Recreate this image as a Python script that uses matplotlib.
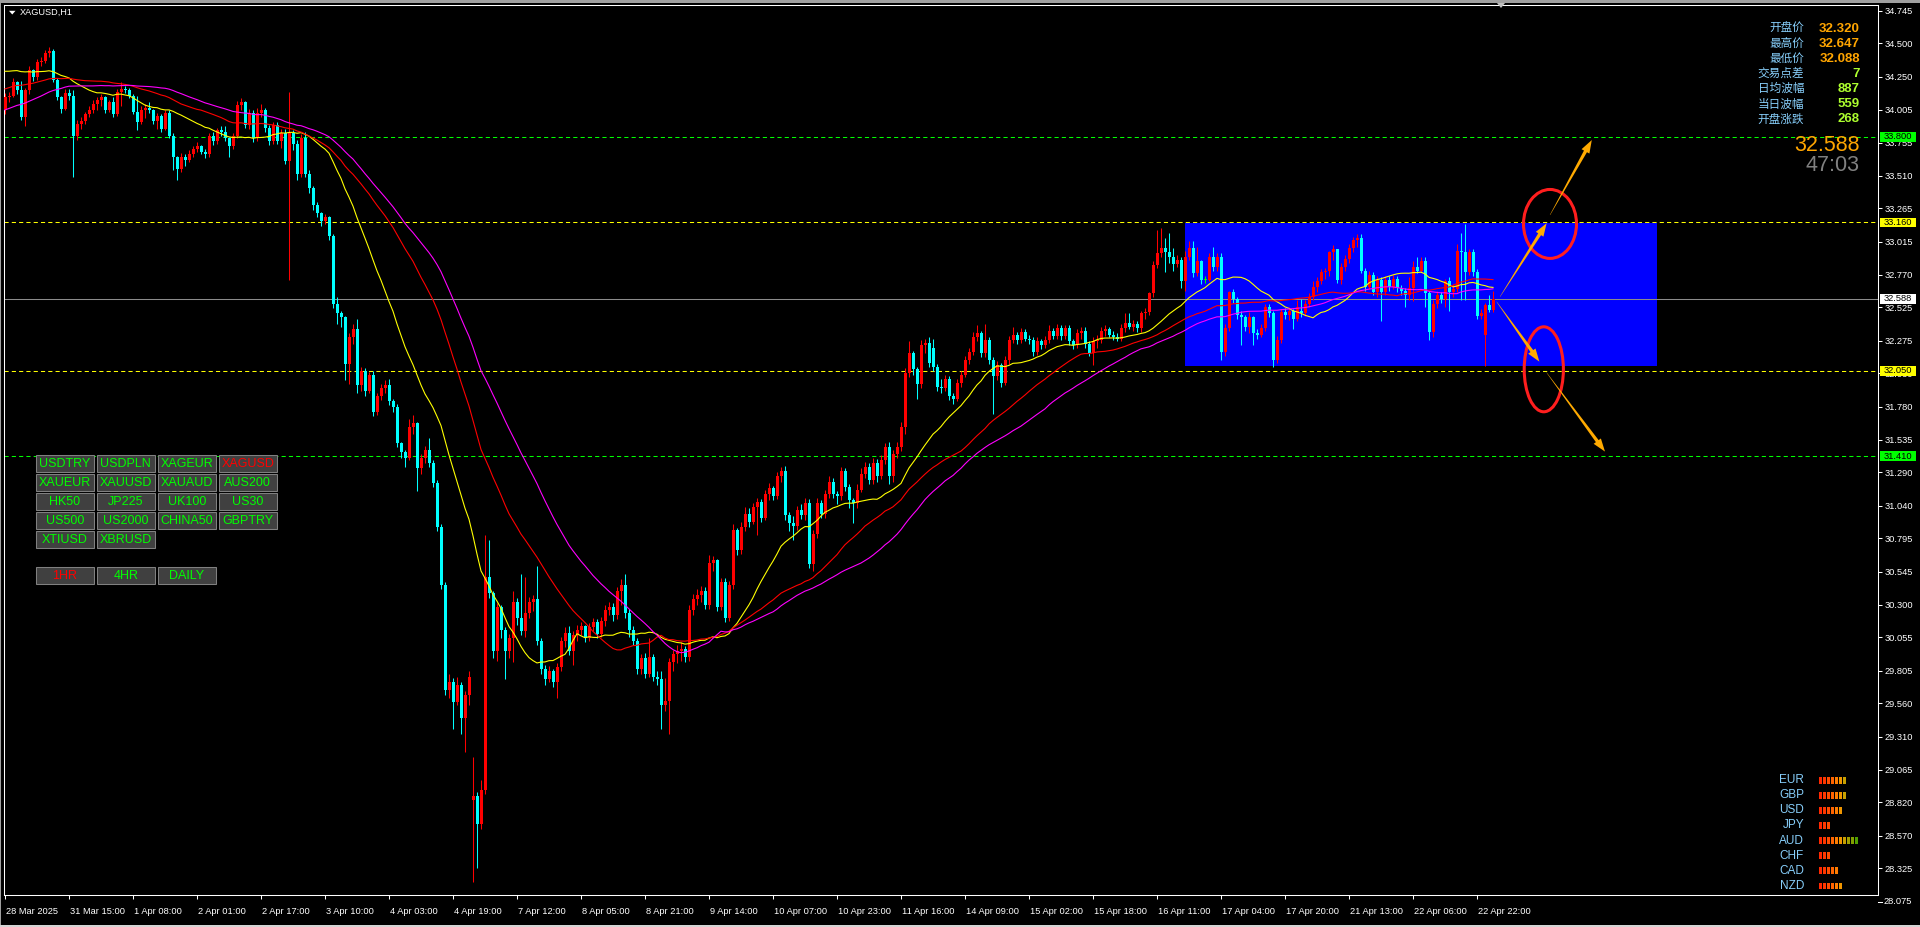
import numpy as np
import pandas as pd
import matplotlib
matplotlib.use("Agg")
import matplotlib.pyplot as plt
from matplotlib.patches import Rectangle, Ellipse, Polygon

W, H = 1920, 927
plt.rcParams["font.family"] = ["Liberation Sans", "DejaVu Sans"]
CJK = ["Noto Sans CJK SC", "DejaVu Sans"]

symbol_title = "XAGUSD,H1"

# ---------------- hourly candles (XAGUSD H1) ----------------
first_open = 34.00
# bars that open away from the previous close (session / weekend gaps)
session_opens = {117: 28.84, 232: 32.22, 324: 32.50, 370: 32.32}

closes = [
    34.10, 34.11, 34.21, 34.15, 33.95, 34.15, 34.30, 34.25, 34.36, 34.37,
    34.43, 34.44, 34.23, 34.10, 34.01, 34.13, 34.11, 33.81, 33.90, 33.92,
    33.97, 34.00, 34.05, 34.08, 34.10, 34.00, 34.06, 33.97, 34.14, 34.16,
    34.15, 34.11, 33.99, 33.91, 34.00, 34.02, 34.00, 33.92, 33.96, 33.86,
    33.98, 33.81, 33.65, 33.56, 33.65, 33.63, 33.67, 33.71, 33.73, 33.69,
    33.67, 33.81, 33.77, 33.85, 33.84, 33.79, 33.73, 33.81, 34.04, 34.06,
    33.89, 33.98, 33.79, 33.98, 34.00, 33.87, 33.77, 33.89, 33.77, 33.83,
    33.62, 33.83, 33.75, 33.52, 33.79, 33.52, 33.42, 33.29, 33.23, 33.17,
    33.20, 33.06, 32.55, 32.48, 32.45, 32.10, 32.30, 32.36, 31.94, 32.05,
    31.90, 32.02, 31.74, 31.86, 31.92, 31.94, 31.82, 31.78, 31.51, 31.44,
    31.40, 31.63, 31.66, 31.32, 31.40, 31.46, 31.36, 31.21, 30.88, 30.45,
    29.66, 29.72, 29.57, 29.70, 29.45, 29.62, 29.76, 28.87, 28.66, 28.91,
    30.51, 30.39, 29.95, 30.28, 30.11, 29.95, 30.05, 30.32, 30.20, 30.10,
    30.24, 30.32, 30.34, 30.03, 29.82, 29.74, 29.80, 29.72, 29.83, 30.03,
    30.09, 29.95, 30.07, 30.11, 30.14, 30.05, 30.13, 30.17, 30.08, 30.18,
    30.26, 30.28, 30.22, 30.40, 30.45, 30.24, 30.11, 30.03, 29.82, 29.90,
    29.78, 29.91, 29.76, 29.74, 29.55, 29.58, 29.87, 29.93, 29.95, 29.97,
    29.91, 30.26, 30.34, 30.37, 30.40, 30.30, 30.61, 30.63, 30.28, 30.47,
    30.20, 30.45, 30.86, 30.71, 30.88, 30.98, 30.92, 31.03, 31.07, 30.95,
    31.13, 31.17, 31.11, 31.26, 31.30, 30.97, 30.91, 30.89, 31.01, 30.97,
    31.06, 30.60, 30.83, 31.06, 30.98, 31.13, 31.22, 31.13, 31.11, 31.30,
    31.18, 31.08, 31.06, 31.16, 31.28, 31.33, 31.23, 31.36, 31.26, 31.38,
    31.48, 31.26, 31.43, 31.48, 31.63, 32.03, 32.18, 32.06, 31.95, 32.24,
    32.26, 32.11, 32.08, 31.93, 31.92, 31.99, 31.86, 31.84, 31.96, 32.02,
    32.13, 32.19, 32.30, 32.33, 32.18, 32.28, 32.13, 32.01, 32.09, 31.96,
    32.13, 32.28, 32.32, 32.28, 32.34, 32.29, 32.28, 32.19, 32.27, 32.24,
    32.28, 32.35, 32.31, 32.37, 32.31, 32.37, 32.27, 32.24, 32.33, 32.35,
    32.25, 32.18, 32.27, 32.28, 32.35, 32.36, 32.32, 32.30, 32.29, 32.37,
    32.41, 32.38, 32.40, 32.37, 32.48, 32.49, 32.63, 32.84, 32.93, 32.97,
    32.94, 32.90, 32.85, 32.88, 32.72, 32.90, 32.97, 32.78, 32.87, 32.73,
    32.73, 32.90, 32.83, 32.90, 32.19, 32.37, 32.64, 32.59, 32.47, 32.45,
    32.38, 32.45, 32.33, 32.32, 32.37, 32.53, 32.48, 32.13, 32.28, 32.49,
    32.47, 32.50, 32.44, 32.53, 32.48, 32.55, 32.60, 32.68, 32.72, 32.79,
    32.80, 32.94, 32.96, 32.73, 32.83, 32.89, 32.97, 33.03, 33.04, 32.80,
    32.68, 32.77, 32.64, 32.73, 32.64, 32.73, 32.68, 32.74, 32.67, 32.65,
    32.62, 32.67, 32.83, 32.80, 32.87, 32.63, 32.34, 32.55, 32.62, 32.59,
    32.72, 32.64, 32.66, 32.95, 32.94, 32.79, 32.94, 32.79, 32.46, 32.48,
    32.54, 32.505, 32.588,
]

highs = [
    34.13, 34.14, 34.24, 34.22, 34.22, 34.17, 34.33, 34.31, 34.38, 34.40,
    34.45, 34.47, 34.46, 34.24, 34.11, 34.16, 34.16, 34.15, 33.93, 33.95,
    33.99, 34.03, 34.08, 34.10, 34.12, 34.11, 34.08, 34.10, 34.16, 34.21,
    34.18, 34.17, 34.12, 34.11, 34.03, 34.05, 34.06, 34.01, 33.98, 33.97,
    34.00, 34.00, 33.83, 33.66, 33.68, 33.67, 33.70, 33.73, 33.76, 33.74,
    33.71, 33.83, 33.84, 33.87, 33.88, 33.88, 33.80, 33.83, 34.07, 34.09,
    34.07, 34.01, 34.00, 34.02, 34.05, 34.02, 33.89, 33.91, 33.91, 33.86,
    33.86, 34.14, 33.85, 33.78, 33.82, 33.84, 33.55, 33.43, 33.31, 33.24,
    33.22, 33.21, 33.07, 32.60, 32.50, 32.46, 32.33, 32.40, 32.44, 32.08,
    32.07, 32.04, 32.05, 31.88, 31.95, 31.98, 31.99, 31.84, 31.80, 31.52,
    31.46, 31.69, 31.72, 31.67, 31.43, 31.49, 31.55, 31.38, 31.23, 30.90,
    30.47, 29.78, 29.75, 29.76, 29.72, 29.65, 29.80, 29.16, 28.90, 28.99,
    30.82, 30.78, 30.40, 30.31, 30.30, 30.13, 30.08, 30.40, 30.35, 30.53,
    30.51, 30.36, 30.37, 30.59, 30.05, 29.85, 29.84, 29.82, 29.86, 30.06,
    30.13, 30.14, 30.10, 30.15, 30.17, 30.15, 30.16, 30.20, 30.19, 30.21,
    30.30, 30.32, 30.31, 30.43, 30.49, 30.53, 30.27, 30.14, 30.05, 29.93,
    29.94, 30.05, 29.93, 29.80, 29.80, 29.75, 29.90, 29.96, 30.00, 30.02,
    29.99, 30.30, 30.38, 30.42, 30.44, 30.43, 30.67, 30.66, 30.64, 30.50,
    30.50, 30.48, 30.90, 30.87, 30.92, 31.03, 31.02, 31.06, 31.10, 31.09,
    31.16, 31.21, 31.19, 31.29, 31.33, 31.34, 30.99, 30.96, 31.04, 31.05,
    31.10, 31.09, 30.86, 31.10, 31.08, 31.16, 31.26, 31.25, 31.15, 31.33,
    31.32, 31.20, 31.10, 31.20, 31.32, 31.37, 31.36, 31.40, 31.39, 31.42,
    31.51, 31.52, 31.46, 31.52, 31.67, 32.07, 32.27, 32.20, 32.08, 32.28,
    32.29, 32.30, 32.29, 32.10, 31.99, 32.02, 32.01, 31.88, 31.99, 32.05,
    32.16, 32.22, 32.34, 32.39, 32.35, 32.40, 32.30, 32.15, 32.12, 32.11,
    32.16, 32.31, 32.38, 32.34, 32.37, 32.36, 32.32, 32.30, 32.30, 32.29,
    32.31, 32.39, 32.37, 32.40, 32.39, 32.39, 32.39, 32.29, 32.36, 32.38,
    32.38, 32.27, 32.30, 32.32, 32.38, 32.39, 32.38, 32.35, 32.33, 32.40,
    32.48, 32.48, 32.43, 32.42, 32.50, 32.52, 32.64, 32.87, 33.10, 33.12,
    33.04, 33.08, 32.97, 32.92, 32.90, 32.95, 33.02, 33.02, 32.98, 32.88,
    32.76, 32.93, 32.98, 32.93, 32.93, 32.40, 32.65, 32.66, 32.60, 32.50,
    32.47, 32.49, 32.46, 32.36, 32.40, 32.55, 32.55, 32.50, 32.31, 32.51,
    32.52, 32.53, 32.51, 32.58, 32.59, 32.58, 32.63, 32.72, 32.75, 32.81,
    32.82, 32.95, 32.99, 32.96, 32.86, 32.92, 33.00, 33.05, 33.07, 33.07,
    32.82, 32.80, 32.79, 32.76, 32.75, 32.76, 32.76, 32.77, 32.76, 32.69,
    32.67, 32.75, 32.87, 32.90, 32.90, 32.90, 32.65, 32.58, 32.65, 32.64,
    32.74, 32.75, 32.70, 33.00, 33.08, 33.15, 32.96, 32.96, 32.81, 32.51,
    32.56, 32.62, 32.647,
]

lows = [
    33.97, 34.06, 34.10, 34.12, 33.93, 33.88, 34.12, 34.22, 34.23, 34.33,
    34.35, 34.40, 34.21, 34.08, 33.98, 34.00, 34.08, 33.50, 33.78, 33.86,
    33.90, 33.95, 33.98, 34.00, 34.03, 33.98, 33.99, 33.95, 33.96, 34.03,
    34.13, 34.09, 33.97, 33.85, 33.90, 33.94, 33.98, 33.90, 33.86, 33.84,
    33.85, 33.79, 33.55, 33.48, 33.54, 33.58, 33.61, 33.65, 33.69, 33.67,
    33.64, 33.65, 33.74, 33.75, 33.81, 33.77, 33.65, 33.71, 33.79, 34.00,
    33.87, 33.86, 33.76, 33.77, 33.95, 33.84, 33.74, 33.75, 33.75, 33.72,
    33.60, 32.73, 33.70, 33.48, 33.50, 33.50, 33.38, 33.25, 33.20, 33.13,
    33.15, 33.03, 32.52, 32.40, 32.38, 31.98, 31.95, 32.25, 31.88, 31.90,
    31.86, 31.88, 31.71, 31.72, 31.83, 31.88, 31.79, 31.74, 31.48, 31.40,
    31.33, 31.38, 31.58, 31.15, 31.28, 31.36, 31.33, 31.18, 30.85, 30.42,
    29.62, 29.60, 29.37, 29.55, 29.33, 29.20, 29.55, 28.22, 28.33, 28.62,
    28.88, 30.35, 29.90, 29.88, 30.05, 29.74, 29.90, 29.87, 30.15, 30.07,
    30.06, 30.20, 30.25, 30.00, 29.78, 29.70, 29.72, 29.68, 29.60, 29.80,
    29.98, 29.92, 29.85, 30.03, 30.07, 30.02, 30.03, 30.10, 30.05, 30.06,
    30.14, 30.22, 30.18, 30.19, 30.30, 30.20, 30.06, 30.00, 29.78, 29.78,
    29.75, 29.76, 29.73, 29.70, 29.37, 29.50, 29.33, 29.80, 29.86, 29.88,
    29.87, 29.88, 30.22, 30.30, 30.32, 30.27, 30.27, 30.55, 30.25, 30.26,
    30.17, 30.18, 30.42, 30.67, 30.68, 30.85, 30.88, 30.90, 30.82, 30.92,
    30.93, 31.08, 31.08, 31.09, 31.22, 30.93, 30.85, 30.78, 30.86, 30.94,
    30.93, 30.57, 30.55, 30.80, 30.95, 30.95, 31.10, 31.10, 31.05, 31.08,
    31.15, 31.02, 30.91, 31.02, 31.14, 31.25, 31.20, 31.20, 31.22, 31.24,
    31.35, 31.20, 31.22, 31.40, 31.45, 31.58, 32.00, 32.02, 31.84, 31.92,
    32.18, 32.08, 32.05, 31.90, 31.88, 31.90, 31.83, 31.80, 31.82, 31.93,
    32.00, 32.10, 32.17, 32.27, 32.15, 32.15, 32.10, 31.73, 31.98, 31.93,
    31.94, 32.10, 32.26, 32.25, 32.26, 32.27, 32.25, 32.16, 32.17, 32.21,
    32.22, 32.26, 32.29, 32.29, 32.28, 32.29, 32.24, 32.21, 32.22, 32.29,
    32.22, 32.16, 32.09, 32.22, 32.26, 32.31, 32.30, 32.28, 32.27, 32.27,
    32.34, 32.36, 32.35, 32.34, 32.34, 32.44, 32.47, 32.60, 32.82, 32.90,
    32.79, 32.86, 32.80, 32.83, 32.67, 32.65, 32.88, 32.75, 32.76, 32.70,
    32.71, 32.72, 32.80, 32.80, 32.13, 32.16, 32.35, 32.56, 32.44, 32.24,
    32.35, 32.33, 32.24, 32.29, 32.30, 32.35, 32.45, 32.08, 32.11, 32.26,
    32.44, 32.43, 32.36, 32.42, 32.45, 32.46, 32.53, 32.58, 32.64, 32.70,
    32.74, 32.76, 32.88, 32.71, 32.70, 32.80, 32.86, 32.94, 32.98, 32.78,
    32.65, 32.66, 32.62, 32.60, 32.42, 32.62, 32.65, 32.66, 32.64, 32.62,
    32.53, 32.58, 32.57, 32.78, 32.79, 32.53, 32.28, 32.30, 32.52, 32.56,
    32.53, 32.50, 32.60, 32.64, 32.58, 32.58, 32.77, 32.76, 32.44, 32.44,
    32.088, 32.49, 32.49,
]

# hourly closes before the first visible bar, used to warm up the averages
prior_closes = [
    33.46, 33.50, 33.48, 33.52, 33.55, 33.51, 33.49, 33.54, 33.58, 33.55,
    33.52, 33.56, 33.60, 33.57, 33.54,
    33.68, 33.76, 33.84, 33.90, 33.96, 34.01, 34.05, 33.99, 34.03, 34.08,
    34.04, 34.09, 34.06, 34.11, 34.07, 34.03, 34.09, 34.13, 34.08, 34.12,
    34.06, 34.10, 34.14, 34.11, 34.13,
    34.20, 34.27, 34.31, 34.29, 34.35, 34.39, 34.34, 34.38, 34.42, 34.37,
    34.33, 34.36, 34.40, 34.35, 34.31, 34.34, 34.38, 34.33, 34.30,
]

ma_periods = [24, 45, 60]
ma_colors = ["#ffff00", "#ff0000", "#ff00ff"]

time_labels = [
    "28 Mar 2025", "31 Mar 15:00", "1 Apr 08:00", "2 Apr 01:00", "2 Apr 17:00",
    "3 Apr 10:00", "4 Apr 03:00", "4 Apr 19:00", "7 Apr 12:00", "8 Apr 05:00",
    "8 Apr 21:00", "9 Apr 14:00", "10 Apr 07:00", "10 Apr 23:00", "11 Apr 16:00",
    "14 Apr 09:00", "15 Apr 02:00", "15 Apr 18:00", "16 Apr 11:00", "17 Apr 04:00",
    "17 Apr 20:00", "21 Apr 13:00", "22 Apr 06:00", "22 Apr 22:00",
]
bars_per_label = 16

price_ticks = [
    "34.745", "34.500", "34.250", "34.005", "33.755", "33.510", "33.265",
    "33.015", "32.770", "32.525", "32.275", "32.030", "31.780", "31.535",
    "31.290", "31.040", "30.795", "30.545", "30.300", "30.055", "29.805",
    "29.560", "29.310", "29.065", "28.820", "28.570", "28.325", "28.075",
]

level_prices = [33.800, 33.160, 32.050, 31.410]
level_colors = ["#00ff00", "#ffff00", "#ffff00", "#00ff00"]
last_price = 32.588

# consolidation box: start bar, end bar, low, high
box_bars = (295, 413)
box_prices = (32.088, 33.158)

# ellipse marks: centre bar, centre price, width in bars, height in price
ellipse_marks = [(386.25, 33.149, 13.25, 0.516), (384.7, 32.061, 9.8, 0.636)]
# scenario arrows: (start bar, start price) -> (end bar, end price)
arrow_marks = [
    ((373.75, 32.604), (385.4, 33.154)),
    ((386.25, 33.216), (396.7, 33.777)),
    ((372.9, 32.567), (383.6, 32.118)),
    ((385.4, 32.036), (400.0, 31.445)),
]

info_labels = ["开盘价", "最高价", "最低价", "交易点差", "日均波幅", "当日波幅", "开盘涨跌"]
info_values = ["32.320", "32.647", "32.088", "7", "887", "559", "268"]
info_value_colors = ["#ffa500"] * 3 + ["#adff2f"] * 4
countdown = "47:03"

symbol_buttons = ["USDTRY", "USDPLN", "XAGEUR", "XAGUSD",
                  "XAUEUR", "XAUUSD", "XAUAUD", "AUS200",
                  "HK50", "JP225", "UK100", "US30",
                  "US500", "US2000", "CHINA50", "GBPTRY",
                  "XTIUSD", "XBRUSD"]
timeframe_buttons = ["1HR", "4HR", "DAILY"]
active_symbol, active_timeframe = "XAGUSD", "1HR"

currencies = ["EUR", "GBP", "USD", "JPY", "AUD", "CHF", "CAD", "NZD"]
strength = [7, 7, 6, 3, 10, 3, 5, 6]
strength_colors = ["#ff2800", "#ff3700", "#ff4b00", "#ff6400", "#ff7d00",
                   "#f09600", "#c8a000", "#a0a000", "#82a000", "#50a000"]

BULL, BEAR, DOJI = "#ff0000", "#00ffff", "#00ff00"

# ---------------- figure & price axes ----------------
fig = plt.figure(figsize=(W / 100, H / 100), dpi=100, facecolor="black")
PL, PR, PT, PB = 4, 1878, 4.5, 895
ax = fig.add_axes([PL / W, 1 - PB / H, (PR - PL) / W, (PB - PT) / H], facecolor="black")
ax.set_xlim(-0.25, -0.25 + (PR - PL) / 4.0)
ax.set_ylim(28.126, 34.7915)
for s in ax.spines.values():
    s.set_color("white")
    s.set_linewidth(0.75)

tick_vals = [float(t) for t in price_ticks]
ylo, yhi = ax.get_ylim()
vis = [(v, t) for v, t in zip(tick_vals, price_ticks) if ylo <= v <= yhi]
ax.set_yticks([v for v, _ in vis])
ax.set_yticklabels([t for _, t in vis])
ax.yaxis.tick_right()
ax.tick_params(axis="y", direction="out", length=3, width=0.75, colors="white",
               labelsize=6.7, pad=1.5)
label_bars = [k * bars_per_label for k in range(len(time_labels))]
ax.set_xticks(label_bars)
ax.tick_params(axis="x", direction="out", length=3, width=0.75, colors="white",
               labelbottom=False)

# box, levels
ax.add_patch(Rectangle((box_bars[0], box_prices[0]), box_bars[1] - box_bars[0],
                       box_prices[1] - box_prices[0], facecolor="#0000ff",
                       edgecolor="none", zorder=1))
for p, c in zip(level_prices, level_colors):
    ax.axhline(p, color=c, lw=0.75, ls=(0, (4, 3)), zorder=2)
ax.axhline(last_price, color="#8c8c8c", lw=0.75, zorder=2)

# candles
c_arr = np.array(closes)
n = len(c_arr)
idx = np.arange(n)
o_arr = np.empty(n)
o_arr[0] = first_open
o_arr[1:] = c_arr[:-1]
for k, v in session_opens.items():
    o_arr[k] = v
hi = np.maximum(np.array(highs), np.maximum(o_arr, c_arr))
lo = np.minimum(np.array(lows), np.minimum(o_arr, c_arr))
cols = np.where(c_arr > o_arr, BULL, np.where(c_arr < o_arr, BEAR, DOJI))
ax.vlines(idx, lo, hi, colors=cols, lw=0.75, zorder=3)
body_lo = np.minimum(o_arr, c_arr)
body_h = np.maximum(np.abs(c_arr - o_arr), 0.006)
ax.bar(idx, body_h, bottom=body_lo, width=0.75, color=cols, linewidth=0, zorder=3.1)

# moving averages
series = pd.Series(prior_closes + closes)
for period, color in zip(ma_periods, ma_colors):
    ma = series.rolling(period).mean().to_numpy()[len(prior_closes):]
    ax.plot(idx, ma, color=color, lw=0.8, zorder=4)

# ellipses
for bx, py, bw, ph in ellipse_marks:
    ax.add_patch(Ellipse((bx, py), bw, ph, facecolor="none", edgecolor="#ff1e1e",
                         lw=2.2, zorder=5))

# ---------------- pixel overlay ----------------
ov = fig.add_axes([0, 0, 1, 1])
ov.set_xlim(0, W)
ov.set_ylim(H, 0)
ov.axis("off")


def to_px(b, p):
    x, y = ax.transData.transform((b, p))
    return x, H - y


def arrow_poly(p0, p1, w0=0.3, w1=3.4, head_len=13.0, head_w=9.0):
    x0, y0 = to_px(*p0)
    x1, y1 = to_px(*p1)
    dx, dy = x1 - x0, y1 - y0
    ln = np.hypot(dx, dy)
    ux, uy = dx / ln, dy / ln
    nx, ny = -uy, ux
    bx, by = x1 - ux * head_len, y1 - uy * head_len
    return [(x0 + nx * w0 / 2, y0 + ny * w0 / 2), (bx + nx * w1 / 2, by + ny * w1 / 2),
            (bx + nx * head_w / 2, by + ny * head_w / 2), (x1, y1),
            (bx - nx * head_w / 2, by - ny * head_w / 2), (bx - nx * w1 / 2, by - ny * w1 / 2),
            (x0 - nx * w0 / 2, y0 - ny * w0 / 2)]


for a, b in arrow_marks:
    ov.add_patch(Polygon(arrow_poly(a, b), closed=True, facecolor="#ffaa00",
                         edgecolor="none", zorder=6))

# time labels
for b, lab in zip(label_bars, time_labels):
    x, _ = to_px(b, last_price)
    ov.text(x + 1.5, 912, lab, color="white", fontsize=6.7, ha="left", va="center")

# last tick label sits just under the frame
_, y28 = to_px(0, 28.075)
ov.plot([PR, PR + 4], [y28, y28], color="white", lw=0.75)
ov.text(PR + 5.5, y28, "28.075", color="white", fontsize=6.7, ha="left", va="center")

# price tags on the scale
tags = [(p, c) for p, c in zip(level_prices, level_colors)] + [(last_price, "#ffffff")]
for p, c in tags:
    _, y = to_px(0, p)
    ov.add_patch(Rectangle((1880, y - 4.8), 35.5, 9.6, facecolor=c, edgecolor="none", zorder=7))
    ov.text(PR + 5.5, y, f"{p:.3f}", color="black", fontsize=6.7, ha="left",
            va="center", zorder=8)

# title
ov.add_patch(Polygon([(9, 10.8), (15.5, 10.8), (12.25, 14.5)], closed=True,
                     facecolor="white", edgecolor="none"))
ov.text(20, 12.7, symbol_title, color="white", fontsize=6.6, ha="left", va="center")
# chart shift marker
ov.add_patch(Polygon([(1497, 3), (1505, 3), (1501, 8)], closed=True,
                     facecolor="#c0c0c0", edgecolor="none"))

# info panel
for k, (lab, val, vc) in enumerate(zip(info_labels, info_values, info_value_colors)):
    y = 28.5 + 15.07 * k
    ov.text(1804, y, lab, color="#87cefa", fontsize=8.4, family=CJK, ha="right", va="center")
    ov.text(1860, y, val, color=vc, fontsize=9.5, fontweight="bold", ha="right", va="center")
ov.text(1860, 145, f"{last_price:.3f}", color="#ffa500", fontsize=15.5, ha="right", va="center")
ov.text(1860, 165, countdown, color="#808080", fontsize=15.5, ha="right", va="center")

# symbol buttons
def button(x0, y0, label, active):
    ov.add_patch(Rectangle((x0, y0), 58.3, 17, facecolor="#404040", edgecolor="#808080",
                           lw=0.75, zorder=7))
    ov.text(x0 + 29.15, y0 + 9.0, label, color="#ff0000" if active else "#00ff00",
            fontsize=9, ha="center", va="center", zorder=8)


for k, name in enumerate(symbol_buttons):
    r, c = divmod(k, 4)
    button(35.7 + 61 * c, 455.3 + 19 * r, name, name == active_symbol)
for k, name in enumerate(timeframe_buttons):
    button(35.7 + 61 * k, 567.3, name, name == active_timeframe)

# currency strength meter
for k, (cur, s) in enumerate(zip(currencies, strength)):
    y = 780.2 + 15.1 * k
    ov.text(1804, y, cur, color="#87cefa", fontsize=8.5, ha="right", va="center")
    for j in range(s):
        ov.add_patch(Rectangle((1818.9 + 4.0 * j, y - 3.4), 2.6, 6.8,
                               facecolor=strength_colors[j], edgecolor="none"))

# window frame
ov.add_patch(Rectangle((0, 0), W, 2.5, facecolor="#a0a0a0", edgecolor="none"))
ov.add_patch(Rectangle((0, 0), 1.2, H, facecolor="#a0a0a0", edgecolor="none"))
ov.add_patch(Rectangle((0, H - 2), W, 2, facecolor="#d4d4d4", edgecolor="none"))

fig.savefig("out.png", dpi=100, facecolor="black")
